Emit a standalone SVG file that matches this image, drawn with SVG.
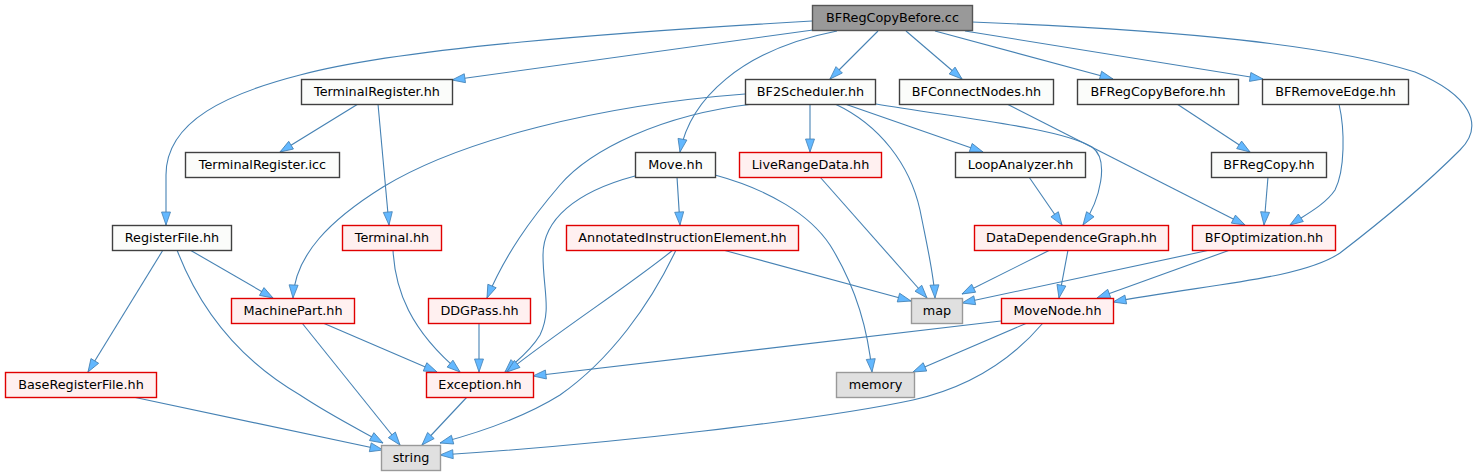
<svg xmlns="http://www.w3.org/2000/svg" width="1480" height="476" viewBox="0 0 1480 476">
<style>
.n rect{stroke-width:1.4}
.main rect{fill:#999999;stroke:#555555}
.doc rect{fill:#fbfcfa;stroke:#404040}
.red rect{fill:#fff0f0;stroke:#e00000}
.ext rect{fill:#e0e0e0;stroke:#999999}
.n text{font-family:"DejaVu Sans","Liberation Sans",sans-serif;font-size:12.8px;fill:#000;text-anchor:middle}
#edges path{fill:none;stroke:#4682b4;stroke-width:1.1;marker-end:url(#arr)}
</style>
<defs>
<marker id="arr" markerUnits="userSpaceOnUse" markerWidth="15" markerHeight="11" viewBox="-1 -1 15 11" refX="13" refY="4.5" orient="auto">
<path d="M0,0 L13,4.5 L0,9 z" fill="#63b8ff" stroke="#4682b4" stroke-width="0.8"/>
</marker>
</defs>
<rect width="1480" height="476" fill="#ffffff"/>
<g id="edges">
<path d="M812,21 C620,32 400,48 300,75 C230,93 166,120 166,175 L166,225"/>
<path d="M813,30 L452,80"/>
<path d="M837,31 C740,50 690,100 680,152"/>
<path d="M878,31 L830,79"/>
<path d="M906,31 L962,79"/>
<path d="M935,31 L1113,79"/>
<path d="M965,31 L1263,79"/>
<path d="M972,22 C1180,30 1330,45 1415,72 C1470,95 1485,125 1460,150 C1420,190 1370,230 1340,253 C1300,280 1200,285 1113,302"/>
<path d="M358,104 L280,152"/>
<path d="M378,104 L389,225"/>
<path d="M745,94 C600,105 460,140 383,187 C330,220 295,255 293,298"/>
<path d="M753,104 C660,115 590,150 560,185 C530,220 505,255 487,298"/>
<path d="M810,104 L810,152"/>
<path d="M835,104 C880,125 910,165 920,210 C928,250 934,275 935,298"/>
<path d="M845,104 L983,152"/>
<path d="M876,104 C960,118 1060,128 1092,147 C1110,160 1100,200 1083,225"/>
<path d="M1007,104 L1245,225"/>
<path d="M1177,104 L1250,152"/>
<path d="M1339,104 C1345,130 1345,170 1335,190 C1325,205 1305,215 1290,225"/>
<path d="M1268,177 L1264,225"/>
<path d="M1029,177 L1062,225"/>
<path d="M677,177 L680,225"/>
<path d="M635,176 C575,192 543,220 543,255 C543,290 552,310 540,335 C530,352 515,362 505,372"/>
<path d="M715,175 C770,190 810,215 830,245 C855,285 868,330 872,372"/>
<path d="M820,177 L927,298"/>
<path d="M723,250 L911,301"/>
<path d="M673,250 C630,285 560,330 507,372"/>
<path d="M676,250 C650,305 610,360 560,395 C520,420 470,435 440,443"/>
<path d="M1050,250 L962,294"/>
<path d="M1068,250 L1059,298"/>
<path d="M1210,250 L962,303"/>
<path d="M1230,250 L1097,298"/>
<path d="M1001,321 L533,376"/>
<path d="M1027,323 L913,372"/>
<path d="M1043,323 C1020,350 980,385 913,400 C820,420 600,445 440,455"/>
<path d="M163,250 L88,372"/>
<path d="M177,250 C200,310 240,360 300,395 C330,415 360,430 383,443"/>
<path d="M190,250 L273,298"/>
<path d="M393,250 C395,290 410,330 460,372"/>
<path d="M302,323 L400,445"/>
<path d="M323,323 L437,372"/>
<path d="M479,323 L479,372"/>
<path d="M133,397 L383,450"/>
<path d="M467,397 L422,445"/>
</g>
<g id="n_main" class="n main"><rect x="812.5" y="5.5" width="160" height="25"/><text x="892.5" y="21.5">BFRegCopyBefore.cc</text></g>
<g id="n_termreg" class="n doc"><rect x="301.5" y="79.5" width="151" height="25"/><text x="377" y="95.5">TerminalRegister.hh</text></g>
<g id="n_termregicc" class="n doc"><rect x="185.5" y="152.5" width="154" height="25"/><text x="262.5" y="168.5">TerminalRegister.icc</text></g>
<g id="n_regfile" class="n doc"><rect x="112.5" y="225.5" width="119" height="25"/><text x="172" y="241.5">RegisterFile.hh</text></g>
<g id="n_terminal" class="n red"><rect x="342.5" y="225.5" width="99" height="25"/><text x="392" y="241.5">Terminal.hh</text></g>
<g id="n_bf2" class="n doc"><rect x="745.5" y="79.5" width="130" height="25"/><text x="810.5" y="95.5">BF2Scheduler.hh</text></g>
<g id="n_bfconnect" class="n doc"><rect x="899.5" y="79.5" width="154" height="25"/><text x="976.5" y="95.5">BFConnectNodes.hh</text></g>
<g id="n_bfrcb" class="n doc"><rect x="1077.5" y="79.5" width="161" height="25"/><text x="1158" y="95.5">BFRegCopyBefore.hh</text></g>
<g id="n_bfremove" class="n doc"><rect x="1262.5" y="79.5" width="146" height="25"/><text x="1335.5" y="95.5">BFRemoveEdge.hh</text></g>
<g id="n_move" class="n doc"><rect x="635.5" y="152.5" width="80" height="25"/><text x="675.5" y="168.5">Move.hh</text></g>
<g id="n_liverange" class="n red"><rect x="739.5" y="152.5" width="142" height="25"/><text x="810.5" y="168.5">LiveRangeData.hh</text></g>
<g id="n_loop" class="n doc"><rect x="955.5" y="152.5" width="130" height="25"/><text x="1020.5" y="168.5">LoopAnalyzer.hh</text></g>
<g id="n_bfregcopy" class="n doc"><rect x="1211.5" y="152.5" width="115" height="25"/><text x="1269" y="168.5">BFRegCopy.hh</text></g>
<g id="n_aie" class="n red"><rect x="566.5" y="225.5" width="232" height="25"/><text x="682.5" y="241.5">AnnotatedInstructionElement.hh</text></g>
<g id="n_ddg" class="n red"><rect x="974.5" y="225.5" width="194" height="25"/><text x="1071.5" y="241.5">DataDependenceGraph.hh</text></g>
<g id="n_bfopt" class="n red"><rect x="1192.5" y="225.5" width="143" height="25"/><text x="1264" y="241.5">BFOptimization.hh</text></g>
<g id="n_machinepart" class="n red"><rect x="231.5" y="298.5" width="123" height="25"/><text x="293" y="314.5">MachinePart.hh</text></g>
<g id="n_ddgpass" class="n red"><rect x="428.5" y="298.5" width="102" height="25"/><text x="479.5" y="314.5">DDGPass.hh</text></g>
<g id="n_map" class="n ext"><rect x="911.5" y="298.5" width="51" height="25"/><text x="937" y="314.5">map</text></g>
<g id="n_movenode" class="n red"><rect x="1001.5" y="298.5" width="112" height="25"/><text x="1057.5" y="314.5">MoveNode.hh</text></g>
<g id="n_basereg" class="n red"><rect x="5.5" y="372.5" width="151" height="25"/><text x="81" y="388.5">BaseRegisterFile.hh</text></g>
<g id="n_exception" class="n red"><rect x="426.5" y="372.5" width="107" height="25"/><text x="480" y="388.5">Exception.hh</text></g>
<g id="n_memory" class="n ext"><rect x="836.5" y="372.5" width="78" height="25"/><text x="875.5" y="388.5">memory</text></g>
<g id="n_string" class="n ext"><rect x="381.5" y="445.5" width="59" height="25"/><text x="411" y="461.5">string</text></g>
</svg>
